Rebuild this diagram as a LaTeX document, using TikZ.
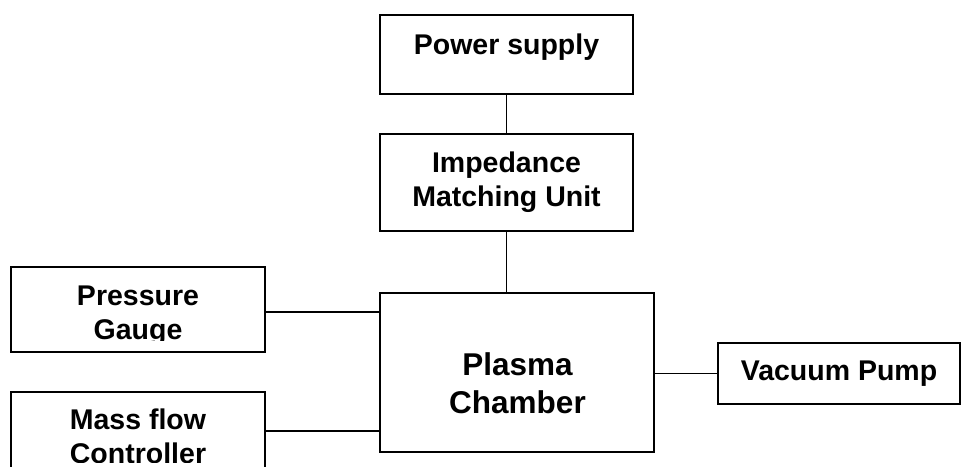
\documentclass[tikz,border=0pt]{standalone}
\usepackage{fontspec}
\setmainfont{Liberation Sans}
\begin{document}
\begin{tikzpicture}[x=1pt,y=-1pt,
  box/.style={draw=black,line width=1.8pt,rectangle,inner sep=0pt,fill=none},
  lab/.style={anchor=base,inner sep=0pt,font=\fontsize{28.5}{34}\selectfont\bfseries},
  biglab/.style={anchor=base,inner sep=0pt,font=\fontsize{31.5}{38}\selectfont\bfseries},
  conn/.style={draw=black,line width=1.8pt}]
\useasboundingbox (0,0) rectangle (961,466);
% boxes
\node[box,minimum width=253pt,minimum height=79pt] (ps) at (506.5,54.5) {};
\node[box,minimum width=253pt,minimum height=97pt] (im) at (506.5,182.5) {};
\node[box,minimum width=274pt,minimum height=159pt] (pc) at (517,372.5) {};
\node[box,minimum width=254pt,minimum height=85pt] (pg) at (138,309.5) {};
\node[box,minimum width=254pt,minimum height=90pt] (mf) at (138,437) {};
\node[box,minimum width=242pt,minimum height=61pt] (vp) at (839,373.5) {};
% texts
\node[lab] (pst) at (506.5,54) {Power supply};
\node[lab] (imt1) at (506.5,172) {Impedance};
\node[lab] (imt2) at (506.5,206) {Matching Unit};
\node[biglab] (pct1) at (517.5,375) {Plasma};
\node[biglab] (pct2) at (517.5,413) {Chamber};
\node[lab] (vpt) at (839,380) {Vacuum Pump};
\begin{scope}
\clip (12,268) rectangle (264,340);
\node[lab] (pgt1) at (138,305) {Pressure};
\node[lab] (pgt2) at (138,339.5) {Gauge};
\end{scope}
\begin{scope}
\clip (12,393) rectangle (264,462);
\node[lab] (mft1) at (138,429) {Mass flow};
\node[lab] (mft2) at (138,463) {Controller};
\end{scope}
% connectors
\draw[conn] (ps.south) -- (im.north);
\draw[conn] (im.south) -- (im.south |- pc.north);
\draw[conn] ([yshift=-2.5pt]pg.east) -- ([yshift=-2.5pt]pg.east -| pc.west);
\draw[conn] ([yshift=-40pt]mf.north east) -- ([yshift=-40pt]mf.north east -| pc.west);
\draw[conn] (vp.west -| pc.east) -- (vp.west);
\end{tikzpicture}
\end{document}
